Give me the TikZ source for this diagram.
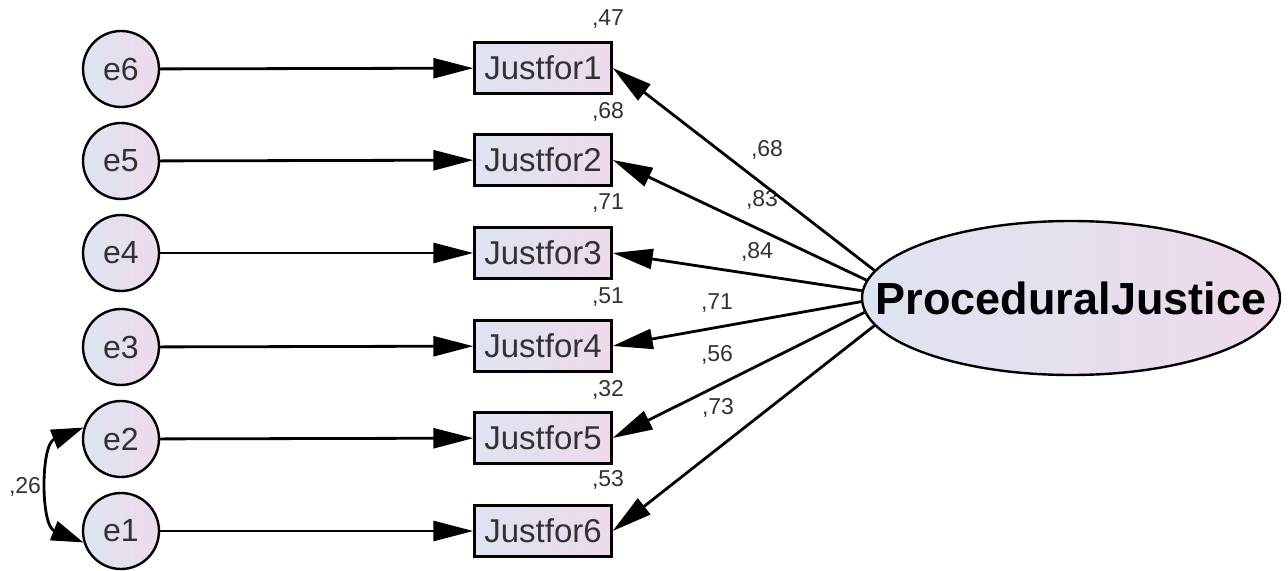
\documentclass[tikz,border=0pt]{standalone}
\usepackage{fontspec}
\setmainfont{Liberation Sans}
\usepackage{tikz}
\usetikzlibrary{shapes}
\usetikzlibrary{arrows.meta}
\usetikzlibrary{positioning}
\definecolor{shadeleft}{RGB}{221,228,241}
\definecolor{shaderight}{RGB}{238,218,234}
\definecolor{labelgray}{RGB}{50,50,50}
\tikzstyle{erreur}=[circle,draw,line width=1.2pt,minimum size=38pt,inner sep=0pt,
        left color=shadeleft,right color=shaderight,text=labelgray,
        font=\fontsize{16}{16}\selectfont]
\tikzstyle{observe}=[rectangle,draw,line width=1.2pt,minimum width=68.5pt,
        minimum height=25.5pt,inner sep=0pt,left color=shadeleft,
        right color=shaderight,text=labelgray,font=\fontsize{16.5}{16.5}\selectfont]
\tikzstyle{latent}=[ellipse,draw,line width=1.2pt,minimum width=209pt,
        minimum height=77pt,inner xsep=-24pt,inner ysep=0pt,left color=shadeleft,
        right color=shaderight,text=black,font=\bfseries\fontsize{22.5}{22.5}\selectfont]
\tikzstyle{coef}=[inner sep=0pt,text=labelgray,font=\fontsize{11.5}{11.5}\selectfont]
\tikzstyle{suite}=[-{Triangle[length=20pt,width=10pt]},line width=1.4pt]
\tikzstyle{deuxsens}=[{Triangle[length=16pt,width=10pt]}-{Triangle[length=16pt,width=10pt]},line width=1.4pt]
\begin{document}
\begin{tikzpicture}[x=0.5pt,y=-0.5pt]
\useasboundingbox (0,0) rectangle (1288,571);
\node[erreur] (e6) at (121,69) {e6};
\node[erreur] (e5) at (121,161) {e5};
\node[erreur] (e4) at (121,253) {e4};
\node[erreur] (e3) at (121,347) {e3};
\node[erreur] (e2) at (121,439) {e2};
\node[erreur] (e1) at (121,531) {e1};
\node[observe] (j1) at (543,68) {Justfor1};
\node[observe] (j2) at (543,160) {Justfor2};
\node[observe] (j3) at (543,253) {Justfor3};
\node[observe] (j4) at (543,346) {Justfor4};
\node[observe] (j5) at (543,438) {Justfor5};
\node[observe] (j6) at (543,531) {Justfor6};
\node[latent] (pj) at (1071,298) {ProceduralJustice};
%valeurs
\node[coef] (r1) at (608,19) {,47};
\node[coef] (r2) at (608,112) {,68};
\node[coef] (r3) at (608,203) {,71};
\node[coef] (r4) at (608,297) {,51};
\node[coef] (r5) at (608,390) {,32};
\node[coef] (r6) at (608,480) {,53};
\node[coef] (w1) at (767,150) {,68};
\node[coef] (w2) at (762,200) {,83};
\node[coef] (w3) at (757,252) {,84};
\node[coef] (w4) at (717,303) {,71};
\node[coef] (w5) at (717,355) {,56};
\node[coef] (w6) at (718,408) {,73};
\node[coef] (c12) at (25,487) {,26};
%fleches
\draw[suite] (e6) -- (j1);
\draw[suite] (e5) -- (j2);
\draw[suite] (e4) -- (j3);
\draw[suite] (e3) -- (j4);
\draw[suite] (e2) -- (j5);
\draw[suite] (e1) -- (j6);
\draw[suite] (pj.172.5) -- (j1.east);
\draw[suite] (pj.175.5) -- (j2.east);
\draw[suite] (pj.178.5) -- (j3.east);
\draw[suite] (pj.181.5) -- (j4.east);
\draw[suite] (pj.184.5) -- (j5.east);
\draw[suite] (pj.188) -- (j6.east);
\draw[deuxsens] (e2.163) .. controls +(-43,17) and +(-43,-17) .. (e1.197);
\end{tikzpicture}
\end{document}
